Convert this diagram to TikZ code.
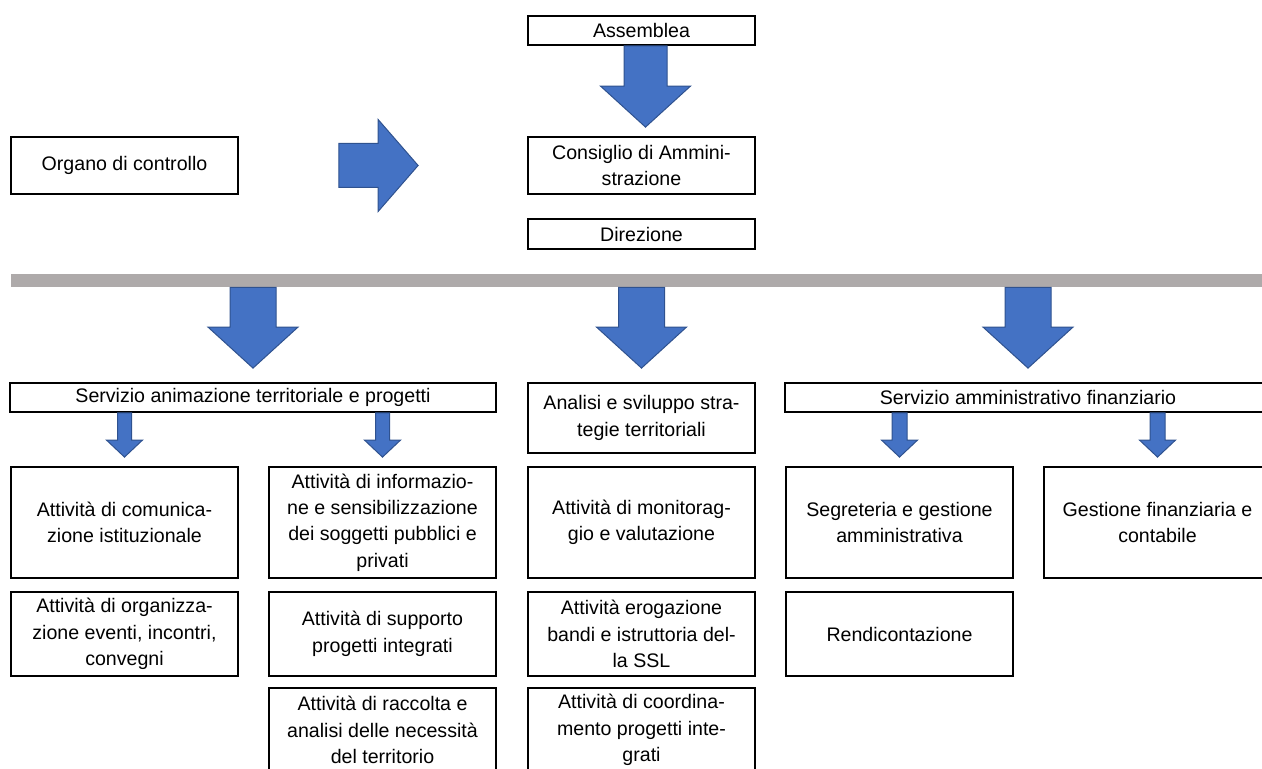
\documentclass[tikz,border=0pt]{standalone}
\usepackage{fontspec}
\setmainfont{Liberation Sans}
\usetikzlibrary{calc}

\definecolor{arrowblue}{HTML}{4472C4}
\definecolor{arrowedge}{HTML}{2F528F}
\definecolor{bargray}{HTML}{AEAAAA}

\newcommand{\blockarrow}[5]{%
\coordinate (arS) at (#1);
\coordinate (arT) at (#2);
\coordinate (arH) at ($(arT)!#5!(arS)$);
\filldraw[blockarrow] ($(arS)!#3!-90:(arT)$) -- ($(arH)!#3!-90:(arT)$) -- ($(arH)!#4!-90:(arT)$) -- (arT) -- ($(arH)!#4!90:(arT)$) -- ($(arH)!#3!90:(arT)$) -- ($(arS)!#3!90:(arT)$) -- cycle;
}

\begin{document}
\begin{tikzpicture}[x=0.5pt, y=-0.5pt,
  box/.style={draw, line width=0.9pt, align=center, inner sep=1pt, minimum width=113.5pt, font=\fontsize{9.8}{13.2}\selectfont},
  band/.style={box, minimum width=243pt, minimum height=14.5pt},
  blockarrow/.style={fill=arrowblue, draw=arrowedge, line width=0.5pt},
  bar/.style={fill=bargray, inner sep=0pt, minimum width=629.5pt, minimum height=6.5pt}]
\useasboundingbox (0,0) rectangle (1262,769);
\clip (0,0) rectangle (1262,769);
\node[box, minimum height=14.5pt] (ass) at (641.5,30.5) {Assemblea};
\node[box, minimum height=28.5pt] (cda) at (641.5,165.5) {Consiglio di Ammini-\\strazione};
\node[box, minimum height=15pt] (dir) at (641.5,234) {Direzione};
\node[box, minimum height=28.5pt] (org) at (124.5,165.5) {Organo di controllo};
\node[bar] (bar) at (640.5,280.5) {};
\node[band] (sat) at (253,397.5) {Servizio animazione territoriale e progetti};
\node[box, minimum height=35pt] (ast) at (641.5,418) {Analisi e sviluppo stra-\\tegie territoriali};
\node[band] (sam) at (1028,397.5) {Servizio amministrativo finanziario};
\node[box, minimum height=55.5pt] (com) at (124.5,522.5) {Attività di comunica-\\zione istituzionale};
\node[box, minimum height=55.5pt] (inf) at (382.5,522.5) {Attività di informazio-\\ne e sensibilizzazione\\dei soggetti pubblici e\\privati};
\node[box, minimum height=55.5pt] (mon) at (641.5,522.5) {Attività di monitorag-\\gio e valutazione};
\node[box, minimum height=55.5pt] (seg) at (899.5,522.5) {Segreteria e gestione\\amministrativa};
\node[box, minimum height=55.5pt] (gfc) at (1157.5,522.5) {Gestione finanziaria e\\contabile};
\node[box, minimum height=42pt] (eve) at (124.5,634) {Attività di organizza-\\zione eventi, incontri,\\convegni};
\node[box, minimum height=42pt] (sup) at (382.5,634) {Attività di supporto\\progetti integrati};
\node[box, minimum height=42pt] (ero) at (641.5,634) {Attività erogazione\\bandi e istruttoria del-\\la SSL};
\node[box, minimum height=42pt] (ren) at (899.5,634) {Rendicontazione};
\node[box, minimum height=42pt] (rac) at (382.5,730) {Attività di raccolta e\\analisi delle necessità\\del territorio};
\node[box, minimum height=42pt] (coo) at (641.5,730) {Attività di coordina-\\mento progetti inte-\\grati};
\blockarrow{[xshift=2pt]ass.south}{[xshift=2pt,yshift=4.5pt]cda.north}{10.75pt}{22.5pt}{20.5pt}
\blockarrow{[xshift=50pt]org.east}{[xshift=-54.5pt]cda.west}{11pt}{23pt}{20pt}
\blockarrow{bar.south -| sat.north}{[yshift=7pt]sat.north}{11.5pt}{22.5pt}{20.5pt}
\blockarrow{bar.south -| ast.north}{[yshift=7pt]ast.north}{11.5pt}{22.5pt}{20.5pt}
\blockarrow{bar.south -| sam.north}{[yshift=7pt]sam.north}{11.5pt}{22.5pt}{20.5pt}
\blockarrow{sat.south -| com.north}{[yshift=4.5pt]com.north}{3.5pt}{9pt}{8.5pt}
\blockarrow{sat.south -| inf.north}{[yshift=4.5pt]inf.north}{3.5pt}{9pt}{8.5pt}
\blockarrow{sam.south -| seg.north}{[yshift=4.5pt]seg.north}{3.75pt}{9pt}{8.5pt}
\blockarrow{sam.south -| gfc.north}{[yshift=4.5pt]gfc.north}{3.75pt}{9pt}{8.5pt}
\end{tikzpicture}
\end{document}
